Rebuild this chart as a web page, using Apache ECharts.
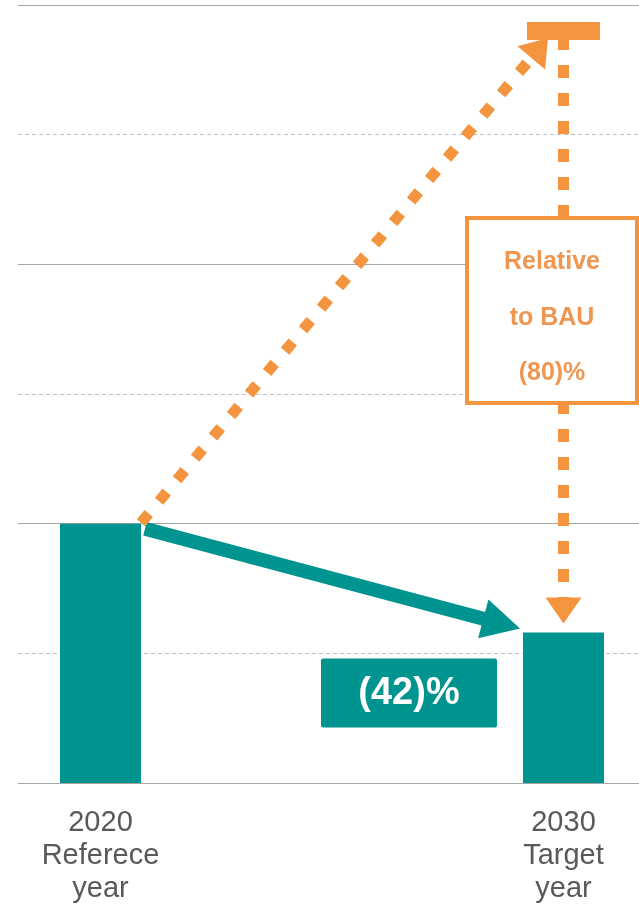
<!DOCTYPE html>
<html>
<head>
<meta charset="utf-8">
<script src="https://cdn.jsdelivr.net/npm/echarts@6/dist/echarts.min.js"></script>
<style>
  html, body { margin: 0; padding: 0; background: #fff; }
  #chart { width: 639px; height: 911px; }
</style>
</head>
<body>
<div id="chart"></div>
<script>
// Emission levels (index, reference year = 100)
const categories = ['2020\nReferece\nyear', '2030\nTarget\nyear'];
const emissions = [100, 58];
const bauValue = 290;            // business-as-usual level in the target year
const axisMax = 300;
const axisStep = 50;

const TEAL = '#009490';
const ORANGE = '#F5943F';
const ORANGE_TEXT = '#EF9650';
const FONT = '"Liberation Sans", Arial, sans-serif';

const reductionPct = Math.round((1 - emissions[1] / emissions[0]) * 100);
const vsBauPct = Math.round((1 - emissions[1] / bauValue) * 100);

const chart = echarts.init(document.getElementById('chart'), null, { renderer: 'canvas' });

const gridTop = 5, gridBottom = 128;

chart.setOption({
  animation: false,
  grid: [
    // bar grid: the two categories sit on its left and right edges
    { left: 100.5, right: 75.5, top: gridTop, bottom: gridBottom },
    // grid carrying the horizontal guide lines
    { left: 18, right: 0, top: gridTop, bottom: gridBottom }
  ],
  xAxis: [
    {
      type: 'category', gridIndex: 0, data: categories, boundaryGap: false,
      axisLine: { show: false }, axisTick: { show: false },
      axisLabel: { fontFamily: FONT, fontSize: 29, lineHeight: 33, color: '#595959', margin: 23 }
    },
    { type: 'value', gridIndex: 1, show: false, min: 0, max: 1 }
  ],
  yAxis: [
    { type: 'value', gridIndex: 0, min: 0, max: axisMax, interval: axisStep, show: false },
    {
      type: 'value', gridIndex: 1, min: 0, max: axisMax, interval: axisStep,
      axisLine: { show: false }, axisTick: { show: false }, axisLabel: { show: false },
      splitLine: { lineStyle: { color: ['#A6A6A6', 'rgba(0,0,0,0)'], width: 1.2, type: 'solid' } }
    },
    {
      type: 'value', gridIndex: 1, min: 0, max: axisMax, interval: axisStep,
      axisLine: { show: false }, axisTick: { show: false }, axisLabel: { show: false },
      splitLine: { lineStyle: { color: ['rgba(0,0,0,0)', '#BCC0C8'], width: 1, type: [4, 3] } }
    }
  ],
  series: [
    {
      type: 'bar', xAxisIndex: 0, yAxisIndex: 0, data: emissions,
      barWidth: 81, itemStyle: { color: TEAL }, z: 3
    },
    {
      type: 'scatter', xAxisIndex: 0, yAxisIndex: 0, data: [[1, bauValue]],
      symbol: 'rect', symbolSize: [73, 18], itemStyle: { color: ORANGE, opacity: 1 }, z: 4
    }
  ]
});

// Pixel anchors taken from the chart's own scales
const p1 = chart.convertToPixel({ seriesIndex: 0 }, [0, emissions[0]]);
const p2 = chart.convertToPixel({ seriesIndex: 0 }, [1, emissions[1]]);
const pb = chart.convertToPixel({ seriesIndex: 0 }, [1, bauValue]);
const halfBar = 40.5;

function arrow(start, tip, headLen, headHalf, width, color, dash, z) {
  const dx = tip[0] - start[0], dy = tip[1] - start[1];
  const len = Math.hypot(dx, dy);
  const ux = dx / len, uy = dy / len;
  const nx = -uy, ny = ux;
  const base = [tip[0] - ux * headLen, tip[1] - uy * headLen];
  const lineEnd = [base[0] + ux * 2, base[1] + uy * 2];
  return [
    {
      type: 'line', z: z,
      shape: { x1: start[0], y1: start[1], x2: lineEnd[0], y2: lineEnd[1] },
      style: { stroke: color, lineWidth: width, lineDash: dash || null, lineCap: 'butt' }
    },
    {
      type: 'polygon', z: z,
      shape: { points: [tip, [base[0] + nx * headHalf, base[1] + ny * headHalf], [base[0] - nx * headHalf, base[1] - ny * headHalf]] },
      style: { fill: color }
    }
  ];
}

const graphics = [];

// teal reduction arrow from reference bar to target bar
graphics.push(...arrow([p1[0] + halfBar + 4, p1[1] + 5], [p2[0] - halfBar - 3, p2[1] - 4], 38, 20, 14, TEAL, null, 5));

// orange dotted arrow from reference bar up to the BAU level
graphics.push(...arrow([p1[0] + halfBar, p1[1] - 1], [pb[0] - 15.5, pb[1] + 7], 26, 18, 11, ORANGE, [12, 16], 6));

// orange dotted arrow from BAU level down to the target bar
graphics.push(...arrow([pb[0], pb[1] + 6], [pb[0], p2[1] - 9], 26, 18, 11, ORANGE, [13, 15], 6));

// "(42)%" label box
graphics.push({
  type: 'rect', z: 7,
  shape: { x: p2[0] - halfBar - 202, y: p2[1] + 26, width: 176, height: 69, r: 2 },
  style: { fill: TEAL }
});
graphics.push({
  type: 'text', z: 8,
  x: p2[0] - halfBar - 202 + 88, y: p2[1] + 26 + 35,
  style: {
    text: '(' + reductionPct + ')%', fill: '#FFFFFF',
    font: 'bold 38px ' + FONT, align: 'center', verticalAlign: 'middle'
  }
});

// "Relative to BAU (80)%" box
graphics.push({
  type: 'rect', z: 9,
  shape: { x: pb[0] - 96.5, y: 218, width: 170, height: 185 },
  style: { fill: '#FFFFFF', stroke: ORANGE, lineWidth: 4 }
});
graphics.push({
  type: 'text', z: 10,
  x: pb[0] - 11.5, y: 318,
  style: {
    text: 'Relative\nto BAU\n(' + vsBauPct + ')%', fill: ORANGE_TEXT,
    font: 'bold 25px ' + FONT, lineHeight: 55.5, align: 'center', verticalAlign: 'middle'
  }
});

chart.setOption({ graphic: graphics });
</script>
</body>
</html>
